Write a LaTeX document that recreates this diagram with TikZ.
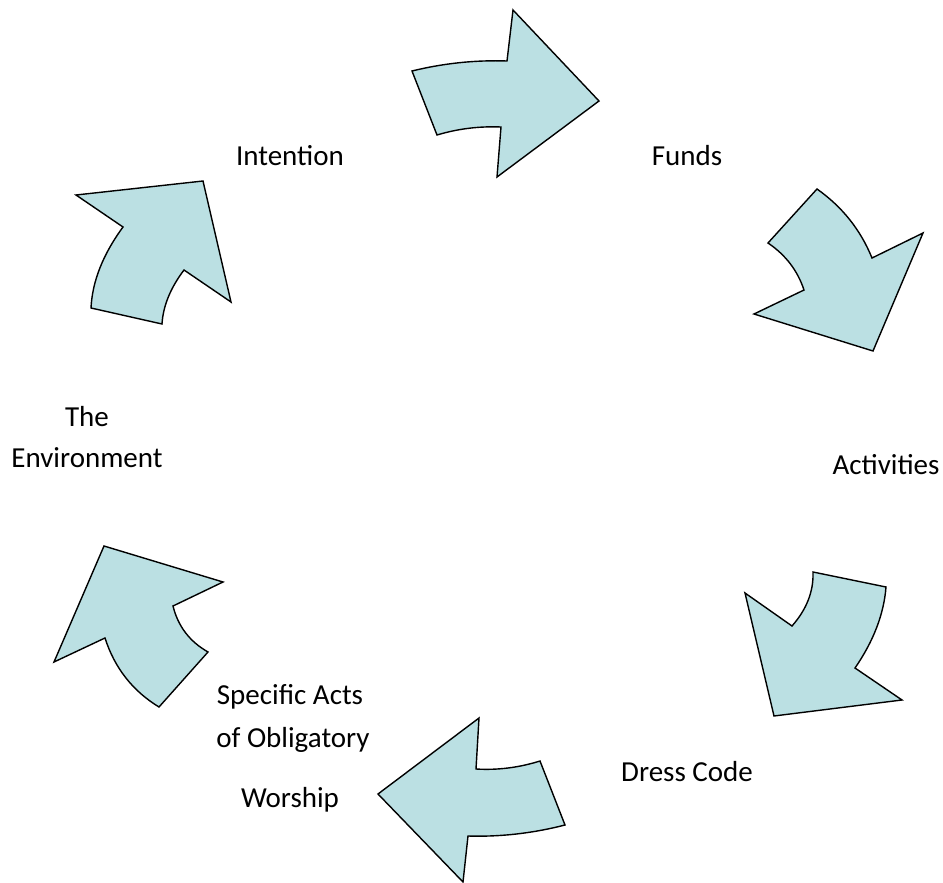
\documentclass[tikz,border=0pt]{standalone}
\usepackage{fontspec}
\setmainfont{Carlito}
\definecolor{arrowfill}{RGB}{187,224,227}
\begin{document}
\begin{tikzpicture}[x=1pt,y=-1pt,
  cyclearrow/.style={draw=black,fill=arrowfill,line width=1.4pt,line join=miter},
  label/.style={font=\fontsize{29}{34}\selectfont,inner sep=0pt,anchor=center}]
\useasboundingbox (0,0) rectangle (943,883);
% arrow 1 (top)
\path[cyclearrow] (412,71) .. controls (443.4,63.3) and (475.1,59.9) .. (507,61) -- (513,10) -- (599,101) -- (497,177) -- (501,127) .. controls (479.3,126.1) and (457.9,128.7) .. (437,135) -- cycle;
% arrow 2 (upper right)
\path[cyclearrow] (817,189) .. controls (842.3,206.9) and (860.6,229.9) .. (872,258) -- (923,233) -- (873,351) -- (754,314) -- (804,290) .. controls (797.6,270.6) and (785.6,254.9) .. (768,243) -- cycle;
% arrow 3 (lower right)
\path[cyclearrow] (813,572) -- (886,587) .. controls (883.9,614) and (873.6,641) .. (855,668) -- (902,700) -- (774,716) -- (745,593) -- (792,626) .. controls (806.7,609.3) and (813.7,591.3) .. (813,572) -- cycle;
% arrow 4 (bottom)
\path[cyclearrow] (378,794) -- (479,718) -- (476,769) .. controls (497.3,770.3) and (518.7,767.7) .. (540,761) -- (565,825) .. controls (532.7,833.3) and (500.3,837) .. (468,836) -- (463,882) -- cycle;
% arrow 5 (lower left)
\path[cyclearrow] (104,546) -- (223,582) -- (173,606) .. controls (178,626.3) and (189.7,641.6) .. (208,652) -- (159,707) .. controls (132.6,690.9) and (114.6,667.9) .. (105,638) -- (54,662) -- cycle;
% arrow 6 (upper left)
\path[cyclearrow] (76,195) -- (203,181) -- (231,302) -- (184,270) .. controls (170.4,288) and (163.1,306) .. (162,324) -- (91,308) .. controls (92.3,281.3) and (103,254.3) .. (123,227) -- cycle;
% labels
\node[label] (intention) at (290,156) {Intention};
\node[label] (funds) at (687,156) {Funds};
\node[label] (the) at (87,417) {The};
\node[label] (environment) at (87,458) {Environment};
\node[label] (activities) at (886,465) {Activities};
\node[label] (dress) at (687,772) {Dress Code};
\node[label] (specific) at (290,697) {Specific Acts};
\node[label] (obligatory) at (293,740) {of Obligatory};
\node[label] (worship) at (290,800) {Worship};
\end{tikzpicture}
\end{document}
